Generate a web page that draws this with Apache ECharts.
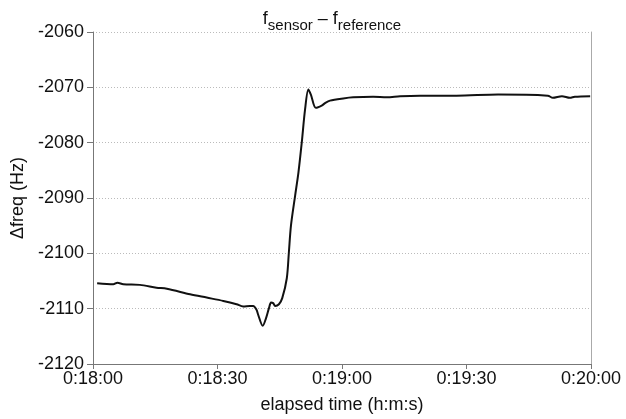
<!DOCTYPE html>
<html>
<head>
<meta charset="utf-8">
<script src="https://cdn.jsdelivr.net/npm/echarts@6/dist/echarts.min.js"></script>
<style>html,body{margin:0;padding:0;background:#fff}#c{width:626px;height:419px}</style>
</head>
<body>
<div id="c"></div>
<script>
// elapsed seconds after 0:18:00
var times = [1, 4.9, 5.9, 7.3, 11.3, 15.3, 17.8, 23.4, 27.4, 31.4, 34.6, 36.2, 37.8, 38.6, 39.4, 39.8, 40.9, 41.7, 42.4, 42.9, 43.4, 43.9, 44.8, 45.6, 46.7, 47.2, 47.7, 48.7, 49.5, 50.3, 51.1, 51.9, 52.5, 53.7, 55.1, 56, 57.1, 60.3, 62.7, 67.5, 70.8, 74, 78.8, 87.6, 97.6, 109.6, 110.8, 113, 114.9, 116.1, 119.8];
var dfreq = [-2105.4, -2105.6, -2105.3, -2105.6, -2105.7, -2106.2, -2106.4, -2107.4, -2108.0, -2108.6, -2109.2, -2109.6, -2109.5, -2109.5, -2110.2, -2111.1, -2113.1, -2111.7, -2109.9, -2108.9, -2109.0, -2109.5, -2109.2, -2108.1, -2104.5, -2099.8, -2095.0, -2089.6, -2085.4, -2080.0, -2074.0, -2070.4, -2071.3, -2073.7, -2073.3, -2072.8, -2072.4, -2072.0, -2071.8, -2071.7, -2071.8, -2071.6, -2071.5, -2071.5, -2071.3, -2071.5, -2071.9, -2071.6, -2071.9, -2071.7, -2071.6];
var xTickLabels = ['0:18:00', '0:18:30', '0:19:00', '0:19:30', '0:20:00'];
var yMin = -2120, yMax = -2060, yStep = 10;

var pts = times.map(function (t, i) { return [t, dfreq[i]]; });
var font = 'Liberation Sans, Arial, sans-serif';
var chart = echarts.init(document.getElementById('c'), null, {renderer: 'canvas'});
chart.setOption({
  animation: false,
  backgroundColor: '#fff',
  title: {
    text: '{f|f}{s|sensor}{f| – f}{s|reference}',
    left: 327, top: 1, textAlign: 'center',
    textStyle: {
      fontWeight: 'normal',
      rich: {
        f: {fontSize: 18, color: '#111', fontFamily: font, fontWeight: 'normal', verticalAlign: 'bottom', lineHeight: 22},
        s: {fontSize: 15, color: '#111', fontFamily: font, fontWeight: 'normal', verticalAlign: 'bottom', lineHeight: 16, padding: [0, 0, -5, 0]}
      }
    }
  },
  grid: {left: 93, right: 35, top: 32, bottom: 52, containLabel: false},
  xAxis: {
    type: 'value', min: 0, max: 120, interval: 30,
    name: 'elapsed time (h:m:s)', nameLocation: 'middle', nameGap: 32,
    nameTextStyle: {fontSize: 18, color: '#111', fontFamily: font},
    axisLine: {show: true, lineStyle: {color: '#777', width: 1}},
    axisTick: {show: true, length: 5, lineStyle: {color: '#777'}},
    axisLabel: {fontSize: 18, color: '#111', fontFamily: font, margin: 6,
      formatter: function (v) { return xTickLabels[Math.round(v / 30)]; }},
    splitLine: {show: false}
  },
  yAxis: [{
    type: 'value', min: yMin, max: yMax, interval: yStep,
    name: 'Δfreq (Hz)', nameLocation: 'middle', nameGap: 57,
    nameTextStyle: {fontSize: 18, color: '#111', fontFamily: font},
    axisLine: {show: true, lineStyle: {color: '#777', width: 1}},
    axisTick: {show: true, length: 6, lineStyle: {color: '#777'}},
    axisLabel: {fontSize: 18, color: '#111', fontFamily: font, margin: 9,
      formatter: function (v) { return String(v); }},
    splitLine: {show: true, lineStyle: {color: '#bbb', type: [1, 2], width: 1}}
  }, {
    type: 'value', min: yMin, max: yMax, interval: yStep, position: 'right',
    axisLine: {show: true, lineStyle: {color: '#aaa', width: 1}},
    axisTick: {show: false}, axisLabel: {show: false}, splitLine: {show: false}
  }],
  series: [{
    type: 'line', data: pts, yAxisIndex: 0, showSymbol: false, smooth: 0.3,
    lineStyle: {color: '#111', width: 2}
  }]
});
</script>
</body>
</html>
